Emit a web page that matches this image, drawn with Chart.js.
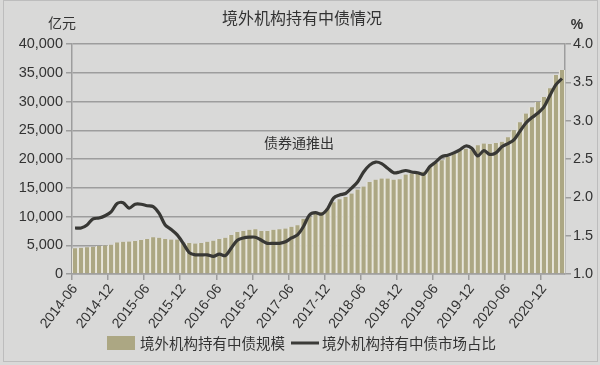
<!DOCTYPE html>
<html>
<head>
<meta charset="utf-8">
<script src="https://cdn.jsdelivr.net/npm/chart.js@4.4.1/dist/chart.umd.min.js"></script>
<style>
  html, body { margin: 0; padding: 0; background: #d9d9d8; }
  #wrap { width: 600px; height: 365px; position: relative; }
</style>
</head>
<body>
<div id="wrap"><canvas id="myChart"></canvas></div>
<script>
// 数据：2014-06 至 2021-03，按月
const years = ['2014', '2015', '2016', '2017', '2018', '2019', '2020', '2021'];
const tickLabels = ['2014-06', '2014-12', '2015-06', '2015-12', '2016-06', '2016-12', '2017-06',
  '2017-12', '2018-06', '2018-12', '2019-06', '2019-12', '2020-06', '2020-12'];

// 境外机构持有中债规模（亿元）
const holdings = [
  4500, 4550, 4650, 4750, 4850, 4950, 5100,            // 2014-06 .. 2014-12
  5500, 5600, 5650, 5750, 5900, 6100, 6400, 6300, 6100, 6000, 6000, 5500,  // 2015
  5400, 5300, 5400, 5600, 5800, 6100, 6300, 6800, 7300, 7500, 7700, 7800,  // 2016
  7500, 7500, 7700, 7800, 7900, 8200, 8500, 9600, 9900, 10500, 10800, 11400, // 2017
  12500, 13000, 13400, 14000, 14700, 15200, 16000, 16400, 16600, 16600, 16400, 16500, // 2018
  17300, 17500, 17500, 17800, 18600, 19300, 19800, 20400, 21000, 21500, 21800, 21600, // 2019
  22400, 22700, 22600, 22800, 23000, 23800, 25000, 26400, 27900, 29000, 29900, 30800, // 2020
  32300, 34600, 35500                                   // 2021-01 .. 2021-03
];

// 境外机构持有中债市场占比（%）
const share = [
  1.60, 1.60, 1.64, 1.72, 1.73, 1.76, 1.81,
  1.92, 1.93, 1.86, 1.91, 1.91, 1.89, 1.88, 1.79, 1.64, 1.58, 1.51, 1.40,
  1.28, 1.25, 1.25, 1.25, 1.23, 1.26, 1.24, 1.34, 1.44, 1.47, 1.48, 1.48,
  1.44, 1.40, 1.40, 1.40, 1.42, 1.47, 1.51, 1.62, 1.77, 1.80, 1.78, 1.85,
  1.99, 2.03, 2.05, 2.12, 2.20, 2.33, 2.42, 2.46, 2.44, 2.38, 2.32, 2.33,
  2.35, 2.33, 2.32, 2.30, 2.40, 2.46, 2.53, 2.55, 2.58, 2.62, 2.67, 2.64,
  2.54, 2.61, 2.56, 2.58, 2.66, 2.70, 2.75, 2.86, 2.97, 3.04, 3.10, 3.18,
  3.33, 3.47, 3.55
];

// 生成月份标签
const months = [];
years.forEach(y => {
  for (let m = 1; m <= 12; m++) {
    const label = y + '-' + String(m).padStart(2, '0');
    if (label >= '2014-06' && label <= '2021-03') months.push(label);
  }
});

const txtColor = '#333333';
const gridColor = '#9d9d9d';
const numFont = "'Liberation Sans', Arial, sans-serif";
const cjkFont = "'Noto Sans CJK SC', sans-serif";

// 标题、单位、注释和图例
const decorPlugin = {
  id: 'decor',
  afterDraw(chart) {
    const c = chart.ctx;
    c.save();
    c.fillStyle = txtColor;
    c.textBaseline = 'middle';

    c.font = '16px ' + cjkFont;
    c.textAlign = 'center';
    c.fillText('境外机构持有中债情况', 302, 18);

    c.font = '14px ' + cjkFont;
    c.fillText('亿元', 62, 23);
    c.fillText('债券通推出', 299, 143);

    c.font = 'bold 14px ' + numFont;
    c.fillText('%', 577, 25);

    // 图例
    c.textAlign = 'left';
    c.fillStyle = '#aca783';
    c.fillRect(107, 336, 28, 14);
    c.fillStyle = txtColor;
    c.font = '14.5px ' + cjkFont;
    c.fillText('境外机构持有中债规模', 140, 343);
    c.strokeStyle = '#3b3b38';
    c.lineWidth = 3;
    c.beginPath();
    c.moveTo(291, 343);
    c.lineTo(319, 343);
    c.stroke();
    c.fillText('境外机构持有中债市场占比', 322, 343);

    // 外框
    c.strokeStyle = '#bdbdbd';
    c.lineWidth = 1;
    c.strokeRect(3.5, 0.5, 594, 361);
    c.restore();
  }
};

const ctx = document.getElementById('myChart').getContext('2d');
const chart = new Chart(ctx, {
  data: {
    labels: months,
    datasets: [
      {
        type: 'line',
        label: '境外机构持有中债市场占比',
        data: share,
        yAxisID: 'y1',
        borderColor: '#383835',
        borderWidth: 3.2,
        pointRadius: 0,
        tension: 0.3,
        order: 0
      },
      {
        type: 'bar',
        label: '境外机构持有中债规模',
        data: holdings,
        yAxisID: 'y',
        backgroundColor: '#aca783',
        borderColor: '#e8e6dc',
        borderWidth: { left: 1.3, right: 1.3, top: 0, bottom: 0 },
        borderSkipped: false,
        barPercentage: 1,
        categoryPercentage: 1,
        order: 1
      }
    ]
  },
  options: {
    responsive: true,
    maintainAspectRatio: false,
    animation: false,
    layout: { padding: { top: 44, left: 0, right: 0, bottom: 0 } },
    plugins: {
      legend: { display: false },
      title: { display: false },
      tooltip: { enabled: false }
    },
    scales: {
      x: {
        offset: true,
        afterFit: s => { s.height = 91; },
        border: { color: gridColor, width: 1.5 },
        grid: {
          offset: true,
          drawOnChartArea: false,
          tickLength: 6,
          lineWidth: 1.5,
          color: c => (c.index % 6 === 0 ? gridColor : 'rgba(0,0,0,0)')
        },
        ticks: {
          autoSkip: false,
          minRotation: 52,
          maxRotation: 52,
          padding: 1,
          color: txtColor,
          font: { family: numFont, size: 14 },
          callback: function (v) {
            const l = this.getLabelForValue(v);
            return tickLabels.includes(l) ? l : '';
          }
        }
      },
      y: {
        position: 'left',
        min: 0,
        max: 40000,
        afterFit: s => { s.width = 72; },
        border: { color: gridColor, width: 1.5 },
        grid: { color: gridColor, lineWidth: 1.5, tickLength: 6 },
        ticks: {
          stepSize: 5000,
          padding: 3,
          color: txtColor,
          font: { family: numFont, size: 14.5 },
          callback: v => v.toLocaleString('en-US')
        }
      },
      y1: {
        position: 'right',
        min: 1,
        max: 4,
        afterFit: s => { s.width = 35; },
        border: { color: gridColor, width: 1.5 },
        grid: { drawOnChartArea: false, color: gridColor, lineWidth: 1.5, tickLength: 6 },
        ticks: {
          stepSize: 0.5,
          padding: 2,
          color: txtColor,
          font: { family: numFont, size: 14.5 },
          callback: v => v.toFixed(1)
        }
      }
    }
  },
  plugins: [decorPlugin]
});
</script>
</body>
</html>
